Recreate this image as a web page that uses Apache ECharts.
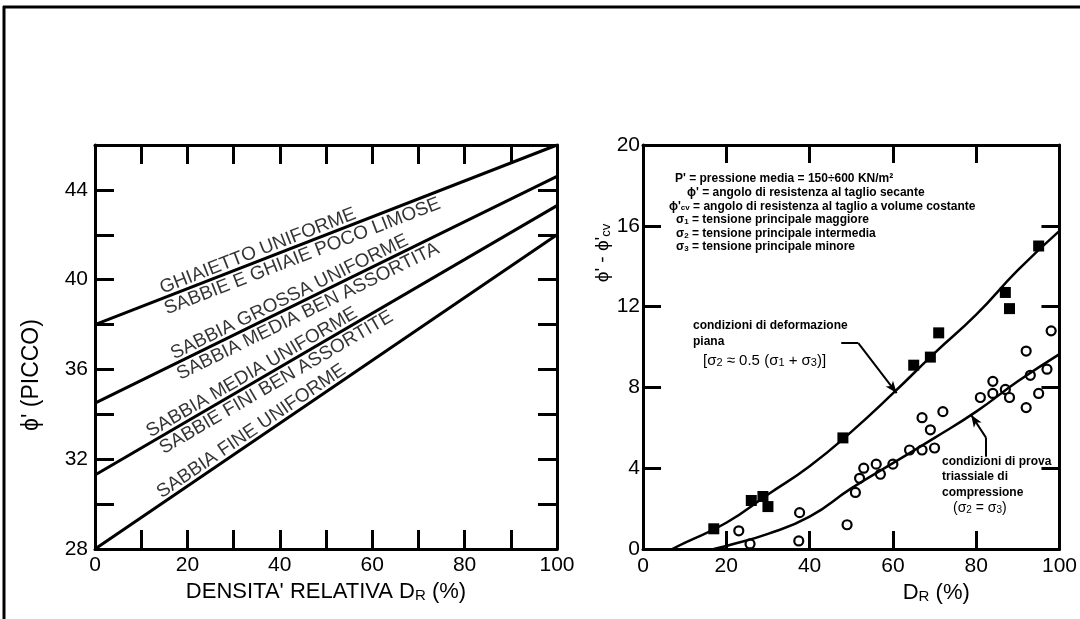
<!DOCTYPE html>
<html>
<head>
<meta charset="utf-8">
<script src="https://cdn.jsdelivr.net/npm/echarts@6/dist/echarts.min.js"></script>
<style>
  html, body { margin: 0; padding: 0; background: #fff; }
  #chart { width: 1080px; height: 619px; }
</style>
</head>
<body>
<div id="chart"></div>
<script>
// left panel: peak angle vs relative density, one straight line per soil
const densityEnds = [0, 100]
const gravelPhi = [38, 46]
const coarseSandPhi = [34.5, 44.6]
const mediumSandPhi = [31.3, 43.3]
const fineSandPhi = [28, 42]
const namesAbove = ['GHIAIETTO UNIFORME', 'SABBIA GROSSA UNIFORME', 'SABBIA MEDIA UNIFORME', 'SABBIA FINE UNIFORME']
const namesBelow = ['SABBIE E GHIAIE POCO LIMOSE', 'SABBIA MEDIA BEN ASSORTITA', 'SABBIE FINI BEN ASSORTITE', '']
const aboveAt = [36, 43, 35, 35]
const belowAt = [44, 45, 38, 0]

// right panel: phi' - phi'cv vs Dr
const plainDr = [17, 26, 28.8, 30, 48, 65, 69, 71, 87, 88, 95]
const plainDiff = [1.0, 2.4, 2.6, 2.1, 5.5, 9.1, 9.5, 10.7, 12.7, 11.9, 15.0]
const triaxDr = [23, 25.7, 37.4, 37.6, 49, 51, 52, 53, 56, 57, 60, 64, 67, 70, 67, 69, 72, 81, 84, 84, 87, 88, 92, 92, 93, 95, 97, 98]
const triaxDiff = [0.9, 0.25, 0.4, 1.8, 1.2, 2.8, 3.5, 4.0, 4.2, 3.7, 4.2, 4.9, 4.9, 5.0, 6.5, 5.9, 6.8, 7.5, 8.3, 7.7, 7.9, 7.5, 7.0, 9.8, 8.6, 7.7, 8.9, 10.8]
const plainCurveDr = [7, 10, 20, 30, 40, 50, 60, 70, 80, 90, 100]
const plainCurveDiff = [0, 0.3, 1.3, 2.7, 4.1, 5.8, 7.7, 9.7, 11.6, 13.8, 15.75]
const triaxCurveDr = [17, 20, 30, 40, 50, 60, 70, 80, 90, 100]
const triaxCurveDiff = [0, 0.15, 0.75, 1.6, 3.0, 4.25, 5.5, 6.8, 8.3, 9.65]
const plainLeader = [[47.6, 10.19], [51.7, 10.19], [60.9, 7.72]]
const triaxLeader = [[82.4, 4.57], [82.4, 5.5], [78.8, 6.63]]

const legendLines = [
  "P' = pressione media = 150÷600 KN/m²",
  "ϕ' = angolo di resistenza al taglio secante",
  "ϕ'{s|cv} = angolo di resistenza al taglio a volume costante",
  "σ{s|1} = tensione principale maggiore",
  "σ{s|2} = tensione principale intermedia",
  "σ{s|3} = tensione principale minore"
]
const legendX = [675, 687, 669, 676, 676, 676]

const FONT = "'Liberation Sans', Arial, sans-serif"
const leftGrid = { left: 95, top: 145, width: 462, height: 404 }
const rightGrid = { left: 643, top: 145, width: 419, height: 404 }
const subStyle = (size, weight) => ({ fontSize: size, fontWeight: weight || 'normal', verticalAlign: 'bottom', fontFamily: FONT, color: '#000' })

const frameAxis = (gridIndex, position, min, max, interval, tickLen, label) => ({
  type: 'value',
  gridIndex,
  position,
  min,
  max,
  interval,
  axisLine: { show: true, onZero: false, lineStyle: { color: '#000', width: 3 } },
  axisTick: { show: true, inside: true, length: tickLen, lineStyle: { color: '#000', width: 3 } },
  splitLine: { show: false },
  axisLabel: label
    ? Object.assign({ show: true, color: '#000', fontSize: 21, fontFamily: FONT, showMinLabel: true, showMaxLabel: true }, label)
    : { show: false }
})

const xAxes = [
  Object.assign(frameAxis(0, 'bottom', 0, 100, 10, 19, {
    margin: 6,
    formatter: (v) => (v % 20 === 0 ? String(v) : '')
  }), {
    name: "DENSITA' RELATIVA D{r|R} (%)",
    nameLocation: 'middle',
    nameGap: 27,
    nameTextStyle: { fontSize: 22, color: '#000', fontFamily: FONT, rich: { r: subStyle(15) } }
  }),
  frameAxis(0, 'top', 0, 100, 10, 19, null),
  Object.assign(frameAxis(1, 'bottom', 0, 100, 20, 18, { margin: 7 }), {
    name: 'D{r|R} (%)',
    nameLocation: 'middle',
    nameGap: 27,
    nameTextStyle: { fontSize: 22, color: '#000', fontFamily: FONT, padding: [0, 0, 0, 170], rich: { r: subStyle(15) } }
  }),
  frameAxis(1, 'top', 0, 100, 20, 18, null)
]

const yAxes = [
  Object.assign(frameAxis(0, 'left', 28, 46, 2, 19, {
    margin: 7,
    formatter: (v) => ((v - 28) % 4 === 0 ? String(v) : '')
  }), {
    name: "ϕ' (PICCO)",
    nameLocation: 'middle',
    nameRotate: 90,
    nameGap: 52,
    nameTextStyle: { fontSize: 23, color: '#000', fontFamily: FONT, padding: [0, 56, 0, 0] }
  }),
  frameAxis(0, 'right', 28, 46, 2, 19, null),
  frameAxis(1, 'left', 0, 20, 4, 18, { margin: 3 }),
  frameAxis(1, 'right', 0, 20, 4, 18, null)
]

// straight lines + their rotated names on the left panel
const leftLines = [gravelPhi, coarseSandPhi, mediumSandPhi, fineSandPhi]
const pxPerX = leftGrid.width / 100
const pxPerY = leftGrid.height / 18
const slopeDeg = (ys) => Math.atan(((ys[1] - ys[0]) * pxPerY) / (100 * pxPerX)) * 180 / Math.PI
const lineAt = (ys, x) => ys[0] + (ys[1] - ys[0]) * x / 100

const series = []
const nameData = []
leftLines.forEach((ys, i) => {
  series.push({
    type: 'line',
    xAxisIndex: 0,
    yAxisIndex: 0,
    data: densityEnds.map((x, j) => [x, ys[j]]),
    symbol: 'none',
    silent: true,
    lineStyle: { color: '#000', width: 3 }
  })
  const rot = slopeDeg(ys)
  nameData.push({
    value: [aboveAt[i], lineAt(ys, aboveAt[i])],
    label: { formatter: namesAbove[i], rotate: rot, verticalAlign: 'bottom', padding: [0, 0, 0, 0] }
  })
  if (namesBelow[i]) {
    nameData.push({
      value: [belowAt[i], lineAt(ys, belowAt[i])],
      label: { formatter: namesBelow[i], rotate: rot, verticalAlign: 'top', padding: [2, 0, 0, 0] }
    })
  }
})
series.push({
  type: 'scatter',
  xAxisIndex: 0,
  yAxisIndex: 0,
  symbolSize: 1,
  silent: true,
  itemStyle: { color: 'rgba(0,0,0,0)' },
  data: nameData,
  label: { show: true, position: 'inside', align: 'center', fontSize: 19, color: '#000', fontFamily: FONT }
})

const leaderLine = (pts) => pts.slice(1).map((p, i) => [
  { coord: pts[i], symbol: 'none' },
  { coord: p, symbol: i === pts.length - 2 ? 'arrow' : 'none', symbolSize: [7, 12] }
])

series.push({
  type: 'line',
  xAxisIndex: 2,
  yAxisIndex: 2,
  data: plainCurveDr.map((x, i) => [x, plainCurveDiff[i]]),
  smooth: true,
  symbol: 'none',
  silent: true,
  lineStyle: { color: '#000', width: 2.5 },
  markLine: {
    silent: true,
    symbol: 'none',
    label: { show: false },
    lineStyle: { color: '#000', width: 2, type: 'solid' },
    data: leaderLine(plainLeader)
  }
})
series.push({
  type: 'line',
  xAxisIndex: 2,
  yAxisIndex: 2,
  data: triaxCurveDr.map((x, i) => [x, triaxCurveDiff[i]]),
  smooth: true,
  symbol: 'none',
  silent: true,
  lineStyle: { color: '#000', width: 2.5 },
  markLine: {
    silent: true,
    symbol: 'none',
    label: { show: false },
    lineStyle: { color: '#000', width: 2, type: 'solid' },
    data: leaderLine(triaxLeader)
  }
})
// white halo first so the curve looks broken around each square
series.push({
  type: 'scatter',
  xAxisIndex: 2,
  yAxisIndex: 2,
  symbol: 'rect',
  symbolSize: 22,
  silent: true,
  itemStyle: { color: '#fff', opacity: 1 },
  data: plainDr.map((x, i) => [x, plainDiff[i]])
})
series.push({
  name: 'deformazione piana',
  type: 'scatter',
  xAxisIndex: 2,
  yAxisIndex: 2,
  symbol: 'rect',
  symbolSize: 11,
  itemStyle: { color: '#000', opacity: 1 },
  data: plainDr.map((x, i) => [x, plainDiff[i]])
})
series.push({
  name: 'prova triassiale',
  type: 'scatter',
  xAxisIndex: 2,
  yAxisIndex: 2,
  symbol: 'circle',
  symbolSize: 9,
  itemStyle: { color: '#fff', borderColor: '#000', borderWidth: 2.2, opacity: 1 },
  data: triaxDr.map((x, i) => [x, triaxDiff[i]])
})

const txt = (x, y, text, size, weight, extra) => ({
  type: 'text',
  x,
  y,
  silent: true,
  style: Object.assign({
    text,
    fill: '#000',
    font: `${weight || 'normal'} ${size}px ${FONT}`,
    align: 'left',
    verticalAlign: 'middle',
    rich: { s: subStyle(Math.round(size * 0.7), weight) }
  }, extra || {})
})

const graphics = [
  { type: 'line', silent: true, shape: { x1: 3, y1: 7, x2: 1080, y2: 7 }, style: { stroke: '#000', lineWidth: 3 } },
  { type: 'line', silent: true, shape: { x1: 4, y1: 6, x2: 4, y2: 619 }, style: { stroke: '#000', lineWidth: 3 } },
  txt(603, 253, "ϕ' - ϕ'{s|cv}", 19, 'normal', { align: 'center' }),
  txt(693, 326, 'condizioni di deformazione', 12, 'bold'),
  txt(693, 342, 'piana', 12, 'bold'),
  txt(703, 361, '[σ{s|2} ≈ 0.5 (σ{s|1} + σ{s|3})]', 15),
  txt(942, 462, 'condizioni di prova', 12, 'bold'),
  txt(942, 477, 'triassiale di', 12, 'bold'),
  txt(942, 493, 'compressione', 12, 'bold'),
  txt(953, 508, '(σ{s|2} = σ{s|3})', 14)
]
graphics[2].rotation = Math.PI / 2
legendLines.forEach((line, i) => {
  graphics.push(txt(legendX[i], 179 + i * 13.6, line, 12, 'bold'))
})

const chart = echarts.init(document.getElementById('chart'), null, { renderer: 'canvas' })
chart.setOption({
  animation: false,
  backgroundColor: '#fff',
  grid: [
    Object.assign({ containLabel: false }, leftGrid),
    Object.assign({ containLabel: false }, rightGrid)
  ],
  xAxis: xAxes,
  yAxis: yAxes,
  series,
  graphic: graphics
})
</script>
</body>
</html>
